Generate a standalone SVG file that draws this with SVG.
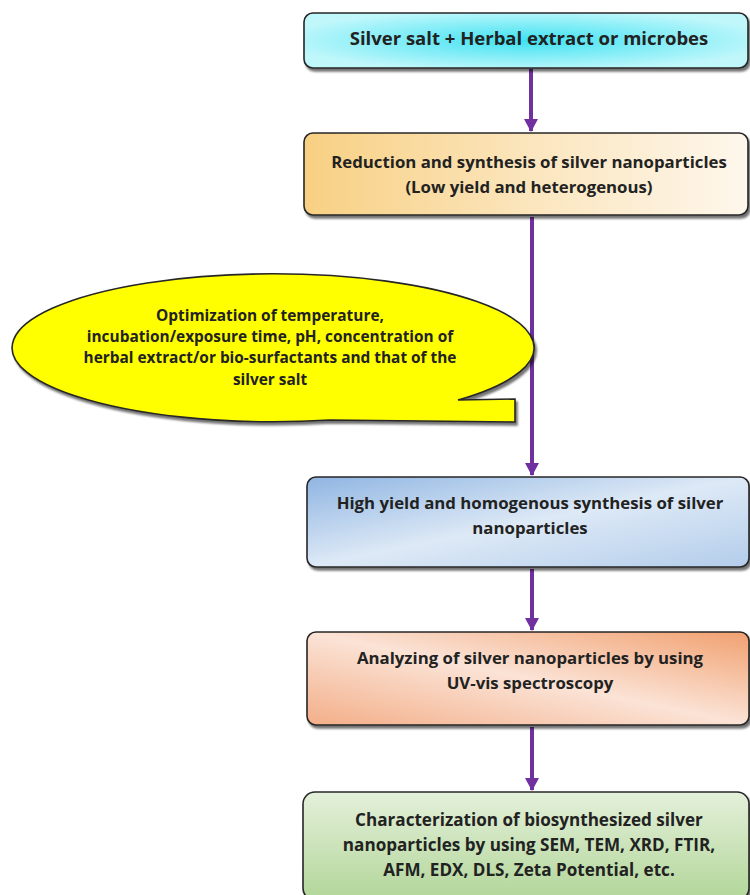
<svg xmlns="http://www.w3.org/2000/svg" width="750" height="895" viewBox="0 0 750 895">
<defs>
<style>
.box{stroke:#262626;stroke-width:1.6;filter:url(#sh)}
.t{font-family:"Open Sans",Lato,"Liberation Sans",sans-serif;font-weight:bold;fill:#222;text-anchor:middle}
.conn{stroke:#7030A0;stroke-width:4;fill:none;marker-end:url(#ah)}
</style>
<filter id="sh" x="-5%" y="-10%" width="115%" height="130%">
<feDropShadow dx="2" dy="3" stdDeviation="1.3" flood-color="#000" flood-opacity="0.55"/>
</filter>
<marker id="ah" viewBox="0 0 13 14" refX="12" refY="7" markerWidth="13" markerHeight="14" markerUnits="userSpaceOnUse" orient="auto">
<path d="M0,0 L13,7 L0,14 Z" fill="#7030A0"/>
</marker>
<radialGradient id="g1" cx="0.5" cy="0.5" r="0.55">
<stop offset="0" stop-color="#3FE2F2"/>
<stop offset="1" stop-color="#BFF7FB"/>
</radialGradient>
<linearGradient id="g2" x1="0" y1="0" x2="1" y2="0">
<stop offset="0" stop-color="#F8D083"/>
<stop offset="0.5" stop-color="#FBE5BC"/>
<stop offset="1" stop-color="#FEF7EC"/>
</linearGradient>
<linearGradient id="g3" x1="0" y1="0" x2="1" y2="1">
<stop offset="0" stop-color="#8FB5E2"/>
<stop offset="0.5" stop-color="#DDE9F6"/>
<stop offset="1" stop-color="#B3CDEB"/>
</linearGradient>
<linearGradient id="g4" x1="0" y1="1" x2="1" y2="0">
<stop offset="0" stop-color="#F3AE88"/>
<stop offset="0.5" stop-color="#FBE3D6"/>
<stop offset="1" stop-color="#F1A06F"/>
</linearGradient>
<linearGradient id="g5" x1="0" y1="0" x2="0" y2="1">
<stop offset="0" stop-color="#E4F0DA"/>
<stop offset="1" stop-color="#B2D699"/>
</linearGradient>
</defs>

<g id="connectors">
<line class="conn" x1="531" y1="69" x2="531" y2="131"/>
<line class="conn" x1="532" y1="217" x2="532" y2="475"/>
<line class="conn" x1="532" y1="569" x2="532" y2="630"/>
<line class="conn" x1="532" y1="727" x2="532" y2="790"/>
</g>

<g id="n1">
<rect class="box" x="304" y="13" width="444" height="55" rx="9" fill="url(#g1)"/>
<text class="t" x="529" y="45" font-size="18.5">Silver salt + Herbal extract or microbes</text>
</g>

<g id="n2">
<rect class="box" x="304" y="133" width="444" height="82" rx="9" fill="url(#g2)"/>
<text class="t" x="529" y="168" font-size="16.8">Reduction and synthesis of silver nanoparticles</text>
<text class="t" x="529" y="193" font-size="16.8">(Low yield and heterogenous)</text>
</g>

<g id="callout">
<path class="box" d="M458,400 L515,399 L515,422 L330,420 A261,74 0 1 1 458,400 Z" fill="#FFFF00"/>
<text class="t" x="270" y="321" font-size="15.4">Optimization of temperature,</text>
<text class="t" x="270" y="342" font-size="15.4">incubation/exposure time, pH, concentration of</text>
<text class="t" x="270" y="363" font-size="15.4">herbal extract/or bio-surfactants and that of the</text>
<text class="t" x="270" y="385" font-size="15.4">silver salt</text>
</g>

<g id="n3">
<rect class="box" x="307" y="477" width="442" height="90" rx="9" fill="url(#g3)"/>
<text class="t" x="530" y="509" font-size="16.8">High yield and homogenous synthesis of silver</text>
<text class="t" x="530" y="534" font-size="16.8">nanoparticles</text>
</g>

<g id="n4">
<rect class="box" x="307" y="632" width="442" height="93" rx="9" fill="url(#g4)"/>
<text class="t" x="530" y="664" font-size="16.8">Analyzing of silver nanoparticles by using</text>
<text class="t" x="530" y="689" font-size="16.8">UV-vis spectroscopy</text>
</g>

<g id="n5">
<rect class="box" x="303" y="792" width="446" height="108" rx="12" fill="url(#g5)"/>
<text class="t" x="529" y="826" font-size="17.1">Characterization of biosynthesized silver</text>
<text class="t" x="529" y="851" font-size="17.1">nanoparticles by using SEM, TEM, XRD, FTIR,</text>
<text class="t" x="529" y="876" font-size="17.1">AFM, EDX, DLS, Zeta Potential, etc.</text>
</g>
</svg>
